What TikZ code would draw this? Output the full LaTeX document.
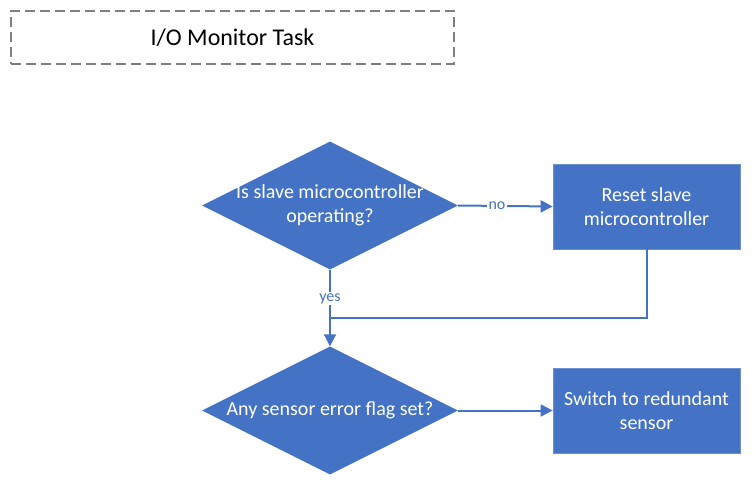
\documentclass[tikz,border=0pt]{standalone}
\usepackage{fontspec}
\setmainfont{Carlito}
\usetikzlibrary{shapes.geometric,arrows.meta}
\definecolor{accent}{HTML}{4472C4}
\definecolor{accentedge}{HTML}{6E8FCF}
\definecolor{framegray}{HTML}{7F7F7F}
\tikzset{
  decision/.style={diamond,fill=accent,draw=none,inner sep=0pt,
    minimum width=256pt,minimum height=128pt},
  process/.style={rectangle,fill=accent,draw=accentedge,line width=0.75pt,
    minimum width=187pt,minimum height=85pt,inner sep=0pt,
    text=white,align=center,font=\fontsize{20}{24}\selectfont},
  dtext/.style={text=white,align=center,font=\fontsize{20}{24}\selectfont},
  flow/.style={draw=accent,line width=2pt},
  flowarrow/.style={flow,-{Triangle[length=12pt,width=12pt]}},
  edgelabel/.style={fill=white,text=accent,inner sep=1.5pt,
    font=\fontsize{16}{18}\selectfont},
  titlebox/.style={draw=framegray,line width=1.3pt,dash pattern=on 10pt off 5pt,
    minimum width=443pt,minimum height=53pt,inner sep=0pt,
    font=\fontsize{24}{28}\selectfont}
}
\begin{document}
\begin{tikzpicture}[x=1pt,y=-1pt]
\useasboundingbox (0,0) rectangle (754,487);
\node[titlebox] (title) at (232.5,37.5) {I/O Monitor Task};
\node[decision,label={[dtext]center:Is slave microcontroller\\operating?}] (d1) at (330,205.5) {};
\node[decision,label={[dtext]center:Any sensor error flag set?}] (d2) at (330,410.5) {};
\node[process] (p1) at (646.5,206.5) {Reset slave\\microcontroller};
\node[process] (p2) at (646.5,410.5) {Switch to redundant\\sensor};
\coordinate (join) at (330,318);
\coordinate (corner) at (p1.south |- join);
\draw[flowarrow] (d1.east) -- node[edgelabel,pos=0.41] {no} (p1.west);
\draw[flowarrow] (d1.south) -- node[edgelabel,pos=0.38] {yes} (d2.north);
\draw[flow] (p1.south) -- (corner) -- (join);
\draw[flowarrow] (d2.east) -- (p2.west);
\end{tikzpicture}
\end{document}
